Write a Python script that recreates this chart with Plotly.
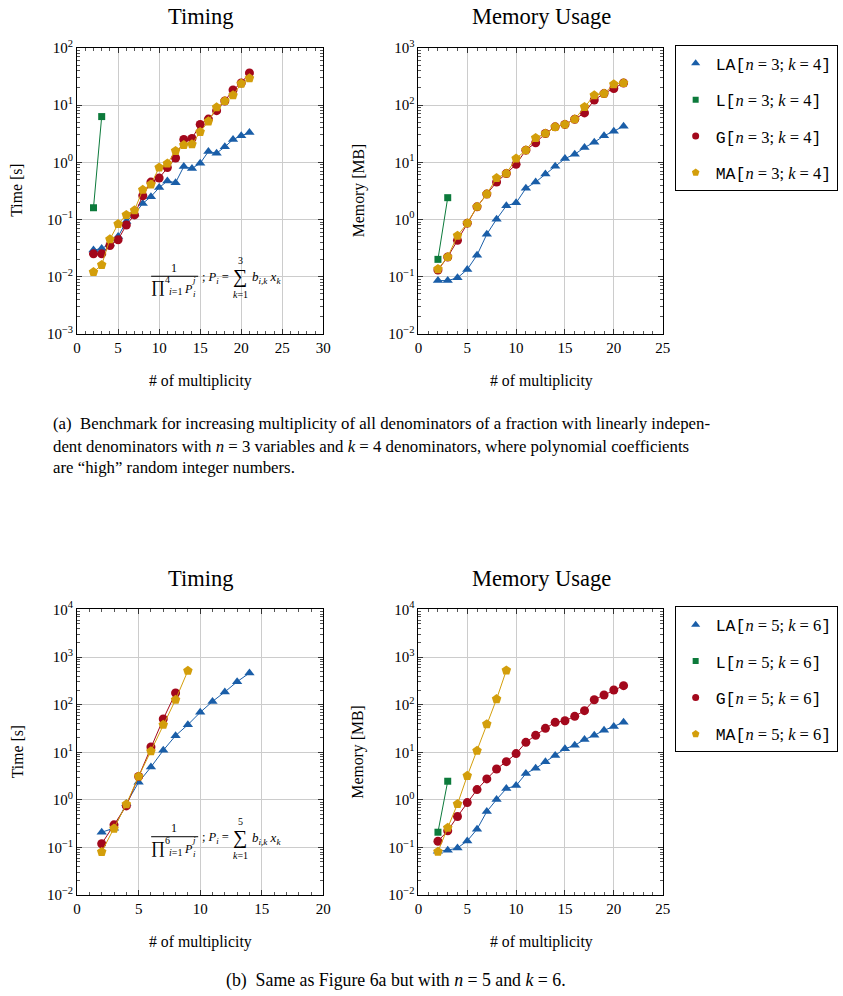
import plotly.graph_objects as go

W, H = 843, 996          # browser window
# measured mapping of the page photo: screen = S * figure + C
SX, SY = 0.985, 0.983
CX, CY = 3.0, 9.0
FW, FH = 856, 1005

# ---------------- data ----------------
x_full = list(range(2, 22))

# (a) Timing, n=3, k=4
ta_LA = [0.029, 0.031, 0.037, 0.050, 0.092, 0.124, 0.19, 0.25, 0.36, 0.47,
         0.44, 0.84, 0.78, 0.96, 1.54, 1.44, 1.86, 2.5, 2.9, 3.3]
ta_L_x = [2, 3]
ta_L = [0.16, 6.3]
ta_G = [0.025, 0.025, 0.035, 0.044, 0.080, 0.12, 0.26, 0.45, 0.53, 0.81,
        1.19, 2.5, 2.6, 4.6, 5.7, 8.0, 11.8, 18.4, 24.4, 36.6]
ta_MA = [0.012, 0.016, 0.045, 0.083, 0.12, 0.145, 0.33, 0.41, 0.81, 0.95,
         1.58, 2.0, 2.07, 3.4, 5.2, 9.2, 11.8, 14.9, 23.8, 29.5]

# (a) Memory, n=3, k=4
ma_LA = [0.085, 0.085, 0.095, 0.133, 0.237, 0.55, 1.01, 1.73, 1.95, 3.5,
         4.5, 6.2, 8.5, 11.6, 13.8, 18.1, 22.4, 29, 35, 42.7]
ma_L_x = [2, 3]
ma_L = [0.20, 2.4]
ma_G = [0.13, 0.22, 0.43, 0.86, 1.66, 2.77, 4.5, 6.35, 9.2, 16.3,
        22, 31.8, 41.6, 46, 56.6, 73, 123, 159, 195, 244]
ma_MA = [0.135, 0.22, 0.52, 0.86, 1.66, 2.77, 5.3, 6.35, 11.6, 16.3,
         26.7, 31.8, 41.6, 46, 56.6, 93, 149, 159, 232, 244]

# (b) Timing, n=5, k=6
tb_LA_x = list(range(2, 15))
tb_LA = [0.21, 0.255, 0.84, 2.35, 4.9, 11, 22.4, 38, 69, 117, 185, 304, 462]
tb_G_x = list(range(2, 9))
tb_G = [0.12, 0.30, 0.75, 3.1, 13, 50, 176]
tb_MA_x = list(range(2, 10))
tb_MA = [0.081, 0.25, 0.81, 3.1, 10.5, 38, 127, 516]

# (b) Memory, n=5, k=6
mb_LA = [0.084, 0.088, 0.098, 0.138, 0.243, 0.57, 1.02, 1.73, 2.0, 3.57,
         4.6, 6.3, 8.6, 11.9, 14, 18.5, 22.7, 29, 35, 43]
mb_L_x = [2, 3]
mb_L = [0.21, 2.47]
mb_G = [0.136, 0.224, 0.45, 0.88, 1.65, 2.76, 4.47, 6.37, 9.4, 16.2,
        22.7, 31.9, 42.6, 46, 57, 75, 127, 160, 203, 251]
mb_MA_x = list(range(2, 10))
mb_MA = [0.082, 0.26, 0.82, 3.2, 10.8, 39, 131, 525]

series_names = ["LA", "L", "G", "MA"]
colors = {"LA": "#1a5ea8", "L": "#0c7a3b", "G": "#a3081c", "MA": "#d39e0b"}
symbols = {"LA": "triangle-up", "L": "square", "G": "circle", "MA": "pentagon"}
msizes = {"LA": 9, "L": 7, "G": 9, "MA": 10}
legend_msizes = {"LA": 8, "L": 6, "G": 7, "MA": 8}

SERIF = "Liberation Serif"
MONO = "Liberation Mono"


def px(x):
    return ((x - CX) / SX) / FW


def py(y):
    return 1 - ((y - CY) / SY) / FH


fig = go.Figure()


def add_series(name, xs, ys, xa, ya):
    fig.add_trace(go.Scatter(
        x=xs, y=ys, mode="lines+markers", xaxis=xa, yaxis=ya, showlegend=False,
        line=dict(color=colors[name], width=1),
        marker=dict(color=colors[name], symbol=symbols[name], size=msizes[name],
                    line=dict(width=0)),
        cliponaxis=False,
    ))


# Top-left: timing (a)
add_series("LA", x_full, ta_LA, "x", "y")
add_series("L", ta_L_x, ta_L, "x", "y")
add_series("G", x_full, ta_G, "x", "y")
add_series("MA", x_full, ta_MA, "x", "y")
# Top-right: memory (a)
add_series("LA", x_full, ma_LA, "x2", "y2")
add_series("L", ma_L_x, ma_L, "x2", "y2")
add_series("G", x_full, ma_G, "x2", "y2")
add_series("MA", x_full, ma_MA, "x2", "y2")
# Bottom-left: timing (b)
add_series("LA", tb_LA_x, tb_LA, "x3", "y3")
add_series("G", tb_G_x, tb_G, "x3", "y3")
add_series("MA", tb_MA_x, tb_MA, "x3", "y3")
# Bottom-right: memory (b)
add_series("LA", x_full, mb_LA, "x4", "y4")
add_series("L", mb_L_x, mb_L, "x4", "y4")
add_series("G", x_full, mb_G, "x4", "y4")
add_series("MA", mb_MA_x, mb_MA, "x4", "y4")


def legend_label(name, n, k):
    return (f"<span style='font-family:{MONO}'>{name}[</span>"
            f"<i>n</i> = {n}; <i>k</i> = {k}"
            f"<span style='font-family:{MONO}'>]</span>")


for leg, (n, k), xa, ya in [("legend", (3, 4), "x2", "y2"), ("legend2", (5, 6), "x4", "y4")]:
    for i, s in enumerate(series_names):
        fig.add_trace(go.Scatter(
            x=[None], y=[None], mode="markers", xaxis=xa, yaxis=ya,
            name=legend_label(s, n, k), legend=leg, legendgroup=f"{leg}{i}",
            marker=dict(color=colors[s], symbol=symbols[s], size=legend_msizes[s]),
            showlegend=True,
        ))


def sup_label(p):
    return f"10<sup>{'−' if p < 0 else ''}{abs(p)}</sup>"


def xaxis_cfg(dom, rng):
    return dict(
        domain=[px(dom[0]), px(dom[1])], range=rng, dtick=5, tick0=0,
        showline=True, linecolor="black", linewidth=1, mirror="ticks",
        ticks="inside", ticklen=5, tickcolor="#333",
        showgrid=True, gridcolor="#cccccc", gridwidth=1, zeroline=False,
        minor=dict(dtick=1, ticks="inside", ticklen=3, tickcolor="#555", showgrid=False),
        tickfont=dict(family=SERIF, size=15, color="black"),
        fixedrange=True,
    )


def yaxis_cfg(dom, lo, hi, anchor):
    return dict(
        type="log", domain=[py(dom[1]), py(dom[0])], range=[lo, hi],
        tickmode="array", tickvals=[10 ** p for p in range(lo, hi + 1)],
        ticktext=[sup_label(p) for p in range(lo, hi + 1)],
        showline=True, linecolor="black", linewidth=1, mirror="ticks",
        ticks="inside", ticklen=5, tickcolor="#333",
        showgrid=True, gridcolor="#cccccc", gridwidth=1, zeroline=False,
        minor=dict(dtick="D1", ticks="inside", ticklen=3, tickcolor="#555", showgrid=False),
        tickfont=dict(family=SERIF, size=15, color="black"),
        anchor=anchor, fixedrange=True,
    )


LX = (76, 322)
RX = (417, 661)
TY = (47, 333)
BY = (609, 895)

legend_common = dict(
    xanchor="left", yanchor="top", bordercolor="black", borderwidth=1,
    bgcolor="white", font=dict(family=SERIF, size=16.5, color="black"),
    traceorder="grouped", tracegroupgap=12, itemclick=False, itemdoubleclick=False,
)

fig.update_layout(
    width=FW, height=FH, margin=dict(l=0, r=0, t=0, b=0),
    paper_bgcolor="white", plot_bgcolor="white",
    font=dict(family=SERIF, color="black"),
    xaxis=dict(xaxis_cfg(LX, [0, 30]), anchor="y"),
    yaxis=yaxis_cfg(TY, -3, 2, "x"),
    xaxis2=dict(xaxis_cfg(RX, [0, 25]), anchor="y2"),
    yaxis2=yaxis_cfg(TY, -2, 3, "x2"),
    xaxis3=dict(xaxis_cfg(LX, [0, 20]), anchor="y3"),
    yaxis3=yaxis_cfg(BY, -2, 4, "x3"),
    xaxis4=dict(xaxis_cfg(RX, [0, 25]), anchor="y4"),
    yaxis4=yaxis_cfg(BY, -2, 4, "x4"),
    legend=dict(legend_common, x=px(673), y=py(44)),
    legend2=dict(legend_common, x=px(673), y=py(606)),
)

ann = []


def text(x, y, t, size=14, xanchor="center", yanchor="middle", angle=0):
    ann.append(dict(x=px(x), y=py(y), xref="paper", yref="paper", text=t,
                    showarrow=False, xanchor=xanchor, yanchor=yanchor,
                    textangle=angle, font=dict(family=SERIF, size=size, color="black")))


# Titles and axis titles
for dy in (0, 562):
    text(199, 16 + dy, "Timing", size=22.5)
    text(540, 16 + dy, "Memory Usage", size=22.5)
    text(199, 380 + dy, "# of multiplicity", size=15.8)
    text(540, 380 + dy, "# of multiplicity", size=15.8)
    text(16, 190 + dy, "Time [s]", size=15.8, angle=-90)
    text(357, 190 + dy, "Memory [MB]", size=15.8, angle=-90)

# Formula annotations
shapes = []
for dy, (num_top, sum_top) in zip((0, 561), (("4", "3"), ("6", "5"))):
    text(173, 267 + dy, "1", size=12)
    shapes.append(dict(type="line", xref="paper", yref="paper",
                       x0=px(150), x1=px(197), y0=py(275.5 + dy), y1=py(275.5 + dy),
                       line=dict(color="black", width=1)))
    text(157, 286 + dy, "∏", size=17)
    text(166, 279 + dy, num_top, size=10)
    text(174, 291 + dy, "<i>i</i>=1", size=10)
    text(187, 288 + dy, "<i>P</i>", size=12)
    text(193, 279 + dy, "<i>j</i>", size=9)
    text(193, 293 + dy, "<i>i</i>", size=9)
    text(199, 277 + dy, "; <i>P</i><sub><i>i</i></sub> =", size=12.5, xanchor="left")
    text(239, 276 + dy, "∑", size=20)
    text(239, 260 + dy, sum_top, size=10)
    text(239, 294 + dy, "<i>k</i>=1", size=10)
    text(249, 277 + dy, "<i>b</i><sub><i>i,k</i></sub> <i>x</i><sub><i>k</i></sub>", size=13, xanchor="left")

# Captions
text(50, 423, "(a)  Benchmark for increasing multiplicity of all denominators of a fraction with linearly indepen-",
     size=16.8, xanchor="left")
text(50, 446, "dent denominators with <i>n</i> = 3 variables and <i>k</i> = 4 denominators, where polynomial coefficients",
     size=16.8, xanchor="left")
text(50, 467, "are “high” random integer numbers.", size=16.8, xanchor="left")
text(395, 980, "(b)  Same as Figure 6a but with <i>n</i> = 5 and <i>k</i> = 6.", size=17.8)

fig.update_layout(annotations=ann, shapes=shapes)

fig.write_html("out.html")
